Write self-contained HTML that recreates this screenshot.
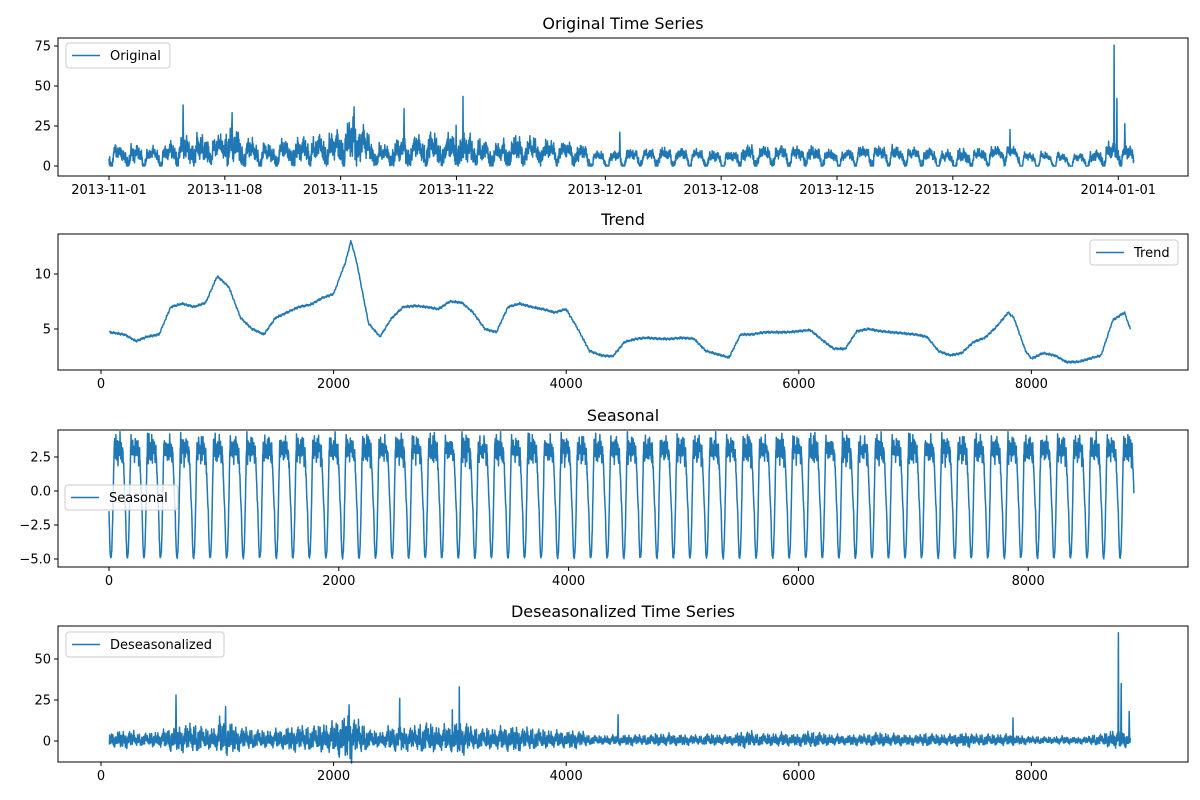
<!DOCTYPE html>
<html><head><meta charset="utf-8">
<style>
body{margin:0;background:#fff;}
svg{display:block;font-family:"DejaVu Sans","Liberation Sans",sans-serif;}
</style></head>
<body>
<svg id="chart" width="1200" height="800" viewBox="0 0 1200 800"></svg>
<script>
// ---- data ----
const trendIdx = [72,200,300,400,500,600,700,800,900,1000,1100,1200,1300,1400,1500,1600,1700,1800,1900,2000,2100,2150,2200,2300,2400,2500,2600,2700,2800,2900,3000,3100,3200,3300,3400,3500,3600,3700,3800,3900,4000,4100,4200,4300,4400,4500,4600,4700,4800,4900,5000,5100,5200,5300,5400,5500,5600,5700,5800,5900,6000,6100,6200,6300,6400,6500,6600,6700,6800,6900,7000,7100,7200,7300,7400,7500,7600,7700,7800,7850,7950,8000,8100,8200,8300,8400,8500,8600,8700,8800,8850];
const trendVal = [4.7,4.5,3.9,4.3,4.5,7.0,7.3,7.0,7.4,9.8,8.8,6.0,5.0,4.5,6.0,6.5,7.0,7.2,7.8,8.2,11,13,11,5.5,4.3,6.0,7.0,7.1,7.0,6.8,7.5,7.4,6.5,5.0,4.7,7.0,7.3,7.0,6.8,6.5,6.8,5.0,3.0,2.6,2.5,3.8,4.1,4.2,4.1,4.1,4.2,4.1,3.0,2.7,2.4,4.5,4.5,4.7,4.7,4.7,4.8,4.9,4.0,3.2,3.2,4.8,5.0,4.8,4.7,4.6,4.5,4.3,3.0,2.6,2.8,3.8,4.2,5.2,6.5,6.0,3.0,2.3,2.8,2.6,2.0,2.0,2.3,2.6,5.8,6.5,5.0];
const seasonalProfile = [-1.5,-3.6,-4.8,-4.9,-4.4,-2.8,-0.4,2.2,3.9,2.4,3.8,2.7,3.3,2.2,3.7,2.5,3.9,2.8,3.4,2.1,3.1,2.0,0.9,-0.6];
const residPattern = [0.2,-0.6,0.9,-0.3,0.5,-0.9,0.1,0.7,-0.4,0.3,-0.8,0.6,-0.1,0.8,-0.5,0.4,-0.7,0.0,0.9,-0.2,0.5,-0.6,0.3];
const dayAmp = [1.0,1.2,0.9,1.1,1.3,1.4,1.0,1.5,1.3,1.2,1.1,1.3,1.2,1.4,1.6,1.3,1.1,1.4,1.2,1.5,1.3,1.6,1.2,1.4,1.3,1.1,1.0,0.9,1.1,0.8,0.9,0.8,0.7,0.9,0.8,0.7,1.0,0.9,1.1,0.8,0.9,0.8,1.0,0.9,0.8,0.7,0.9,0.8,0.7,0.9,1.0,1.2,0.8,0.7,0.6,0.7,0.6,0.8,0.7,1.0,1.1,0.9];
const spikeIdx = [644,1070,2132,2567,3020,3081,4447,7841,8747,8773,8842];
const spikeVal = [28,21,22,26,19,33,16,14,66,35,18];
const dateLabels = ["2013-11-01","2013-11-08","2013-11-15","2013-11-22","2013-12-01","2013-12-08","2013-12-15","2013-12-22","2014-01-01"];
const dateDays = [0,7,14,21,30,37,44,51,61];
const origTicks = [0,25,50,75];
const trendTicks = [5,10];
const seasTicks = [-5,-2.5,0,2.5];
const desTicks = [0,25,50];
const idxTicks = [0,2000,4000,6000,8000];
const PER_DAY = 144;

// ---- scales ----
const L=58,R=1188;
const xDate = i => 109 + i*0.1149;
const xTr = i => 101 + i*0.1163;
const y1 = v => 166 - v*1.6;
const y2 = v => 384 - v*11;
const y3 = v => 491 - v*13.6;
const y4 = v => 741 - v*1.64;

function trendAt(i){
  if(i<=trendIdx[0]) return trendVal[0];
  for(let k=1;k<trendIdx.length;k++){
    if(i<=trendIdx[k]){const t=(i-trendIdx[k-1])/(trendIdx[k]-trendIdx[k-1]);return trendVal[k-1]+t*(trendVal[k]-trendVal[k-1]);}
  }
  return trendVal[trendVal.length-1];
}
function seasAt(i){
  const h=(i%PER_DAY)/PER_DAY*seasonalProfile.length;
  const a=Math.floor(h),t=h-a;
  return seasonalProfile[a]+t*(seasonalProfile[(a+1)%seasonalProfile.length]-seasonalProfile[a]);
}
const STEP=3;
function desAt(i){
  for(let k=0;k<spikeIdx.length;k++) if(Math.abs(i-spikeIdx[k])<STEP/2+0.01) return spikeVal[k];
  const d=Math.min(dayAmp.length-1,Math.floor(i/PER_DAY));
  const r=residPattern[Math.round(i/STEP)%residPattern.length];
  const r2=residPattern[Math.floor(i/(STEP*7))%residPattern.length];
  const amp=(1.5+0.55*trendAt(i))*dayAmp[d];
  return (r*0.65+r2*0.5)*amp + (r>0?r*amp*0.5:0);
}

const NS="http://www.w3.org/2000/svg";
const svg=document.getElementById('chart');
function el(tag,attrs,parent){const e=document.createElementNS(NS,tag);for(const k in attrs)e.setAttribute(k,attrs[k]);(parent||svg).appendChild(e);return e;}
function txt(s,x,y,size,anchor,parent){const t=el('text',{x:x,y:y,'font-size':size,'text-anchor':anchor||'middle',fill:'#000'},parent);t.textContent=s;return t;}

function panel(name,top,bottom,title){
  const g=el('g',{});
  
  
  const t=txt(title,(L+R)/2,top-9,16,'middle',g);
  
  
  return g;
}
function frame(g,top,bottom){
  el('rect',{x:L,y:top,width:R-L,height:bottom-top,fill:'none',stroke:'#000','stroke-width':1},g);
}
function yTicks(g,ticks,ys,fmt){
  ticks.forEach(v=>{const y=ys(v);el('line',{x1:L-4,x2:L,y1:y,y2:y,stroke:'#000'},g);
    const t=txt(fmt(v),L-7,y+4.5,13,'end',g);});
}
function xTicks(g,ticks,xs,labels,bottom){
  ticks.forEach((v,k)=>{const x=xs(v);el('line',{x1:x,x2:x,y1:bottom,y2:bottom+4,stroke:'#000'},g);
    const t=txt(labels[k],x,bottom+18,13,'middle',g);});
}
function line(g,pts,name){
  const p=el('polyline',{points:pts.map(q=>q[0].toFixed(1)+','+q[1].toFixed(1)).join(' '),fill:'none',stroke:'#1f77b4','stroke-width':1.5,'stroke-linejoin':'round'},g);
  
  
}
function legend(g,x,y,w,label,name){
  const lg=el('g',{},g);
  
  
  el('rect',{x:x,y:y,width:w,height:25,rx:3,fill:'#fff','fill-opacity':0.8,stroke:'#ccc'},lg);
  el('line',{x1:x+6,x2:x+34,y1:y+12.5,y2:y+12.5,stroke:'#1f77b4','stroke-width':1.5},lg);
  txt(label,x+44,y+17,13,'start',lg);
}

// Panel 1: Original
let g=panel('original',38,176,'Original Time Series');
let pts=[];
for(let i=0;i<=8920;i+=STEP){pts.push([xDate(i),y1(Math.max(0,trendAt(i)+desAt(i)+seasAt(i)))]);}
line(g,pts,'original-series');
frame(g,38,176);
yTicks(g,origTicks,y1,v=>String(v));
xTicks(g,dateDays.map(d=>d*PER_DAY),xDate,dateLabels,176);
legend(g,66,43,104,'Original','original-legend');

// Panel 2: Trend
g=panel('trend',234,370,'Trend');
pts=[];
for(let i=72;i<=8850;i+=6){pts.push([xTr(i),y2(trendAt(i)+residPattern[(i/6)%residPattern.length]*0.12)]);}
line(g,pts,'trend-series');
frame(g,234,370);
yTicks(g,trendTicks,y2,v=>String(v));
xTicks(g,idxTicks,xTr,idxTicks.map(String),370);
legend(g,1090,240,88,'Trend','trend-legend');

// Panel 3: Seasonal
g=panel('seasonal',430,567,'Seasonal');
pts=[];
for(let i=0;i<=8920;i+=2){
  const n=residPattern[(i/2)%residPattern.length]*0.5*(seasAt(i)>1.5?1:0.2);
  pts.push([xDate(i),y3(seasAt(i)+n)]);
}
line(g,pts,'seasonal-series');
frame(g,430,567);
yTicks(g,seasTicks,y3,v=>v.toFixed(1).replace('-','\u2212'));
xTicks(g,idxTicks,xDate,idxTicks.map(String),567);
legend(g,65,485,113,'Seasonal','seasonal-legend');

// Panel 4: Deseasonalized
g=panel('deseasonalized',626,762,'Deseasonalized Time Series');
pts=[];
for(let i=72;i<=8850;i+=STEP){pts.push([xTr(i),y4(desAt(i))]);}
line(g,pts,'deseasonalized-series');
frame(g,626,762);
yTicks(g,desTicks,y4,v=>String(v));
xTicks(g,idxTicks,xTr,idxTicks.map(String),762);
legend(g,66,632,158,'Deseasonalized','deseasonalized-legend');
</script>
</body></html>
